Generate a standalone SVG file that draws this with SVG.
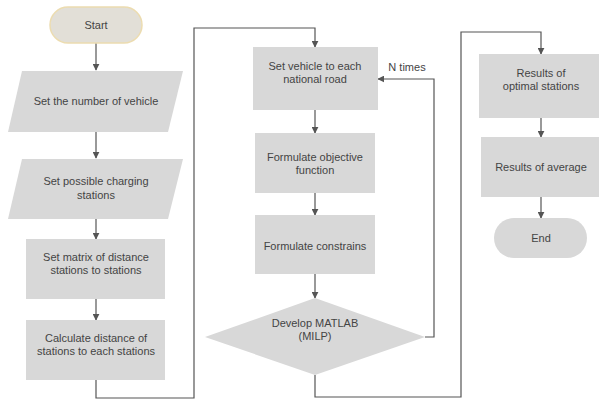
<svg xmlns="http://www.w3.org/2000/svg" width="599" height="400" viewBox="0 0 599 400">
<defs>
<style>
.n{fill:#d8d8d8;stroke:none}
.t{font-family:"Liberation Sans",Arial,sans-serif;font-size:11px;fill:#444;text-anchor:middle}
.c{fill:none;stroke:#555;stroke-width:1.2}
</style>
<marker id="ah" viewBox="0 0 10 10" refX="9" refY="5" markerWidth="7" markerHeight="7" orient="auto" markerUnits="userSpaceOnUse">
<path d="M0,0 L10,5 L0,10 z" fill="#555"/>
</marker>
</defs>
<rect width="599" height="400" fill="#fff"/>
<g id="connectors">
<path class="c" d="M96,43 V70" marker-end="url(#ah)"/>
<path class="c" d="M96,132 V158" marker-end="url(#ah)"/>
<path class="c" d="M96,219 V239" marker-end="url(#ah)"/>
<path class="c" d="M96,299 V320" marker-end="url(#ah)"/>
<path class="c" d="M96,380 V398 H194 V28 H315 V47" marker-end="url(#ah)"/>
<path class="c" d="M315,110 V133" marker-end="url(#ah)"/>
<path class="c" d="M315,193 V215" marker-end="url(#ah)"/>
<path class="c" d="M315,274 V298" marker-end="url(#ah)"/>
<path class="c" d="M425,337 H434 V79 H378" marker-end="url(#ah)"/>
<path class="c" d="M315,375 V397 H461 V32 H541 V54" marker-end="url(#ah)"/>
<path class="c" d="M541,118 V137" marker-end="url(#ah)"/>
<path class="c" d="M541,197 V218" marker-end="url(#ah)"/>
<text class="t" x="407" y="71">N times</text>
</g>
<g id="start">
<rect x="50" y="7" width="92" height="36" rx="18" fill="#e2dfd7" stroke="#ecdcb0" stroke-width="1.5"/>
<text class="t" x="96" y="29">Start</text>
</g>
<g id="n1">
<polygon class="n" points="22,71 183,71 168,132 8,132"/>
<text class="t" x="96" y="105">Set the number of vehicle</text>
</g>
<g id="n2">
<polygon class="n" points="22,159 183,159 168,219 8,219"/>
<text class="t" x="96" y="185">Set possible charging</text>
<text class="t" x="96" y="199">stations</text>
</g>
<g id="n3">
<rect class="n" x="26" y="239" width="139" height="60"/>
<text class="t" x="96" y="261">Set matrix of distance</text>
<text class="t" x="96" y="274">stations to stations</text>
</g>
<g id="n4">
<rect class="n" x="26" y="320" width="139" height="60"/>
<text class="t" x="96" y="342">Calculate distance of</text>
<text class="t" x="96" y="355">stations to each stations</text>
</g>
<g id="n5">
<rect class="n" x="253" y="47" width="125" height="63"/>
<text class="t" x="315" y="70">Set vehicle to each</text>
<text class="t" x="315" y="83">national road</text>
</g>
<g id="n6">
<rect class="n" x="255" y="133" width="120" height="60"/>
<text class="t" x="315" y="161">Formulate objective</text>
<text class="t" x="315" y="174">function</text>
</g>
<g id="n7">
<rect class="n" x="255" y="215" width="120" height="59"/>
<text class="t" x="315" y="250">Formulate constrains</text>
</g>
<g id="n8">
<polygon class="n" points="315,298 425,337 315,375 205,337"/>
<text class="t" x="315" y="327">Develop MATLAB</text>
<text class="t" x="315" y="340">(MILP)</text>
</g>
<g id="n9">
<rect class="n" x="479" y="54" width="120" height="64"/>
<text class="t" x="541" y="77">Results of</text>
<text class="t" x="541" y="90">optimal stations</text>
</g>
<g id="n10">
<rect class="n" x="481" y="137" width="118" height="60"/>
<text class="t" x="541" y="171">Results of average</text>
</g>
<g id="end">
<rect class="n" x="494" y="218" width="93" height="40" rx="20"/>
<text class="t" x="541" y="242">End</text>
</g>
</svg>
